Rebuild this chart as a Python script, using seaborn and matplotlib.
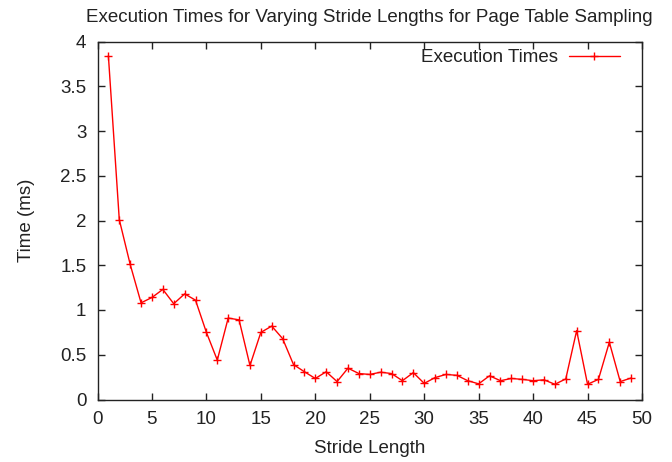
import matplotlib
matplotlib.use("Agg")
import matplotlib.pyplot as plt
import seaborn as sns
import pandas as pd

# valeurs
stride = list(range(1, 50))
times_ms = [3.84, 2.01, 1.51, 1.08, 1.14, 1.23, 1.07, 1.18, 1.11, 0.75,
            0.44, 0.91, 0.89, 0.38, 0.75, 0.82, 0.68, 0.39, 0.31, 0.235,
            0.31, 0.20, 0.35, 0.29, 0.28, 0.305, 0.29, 0.21, 0.30, 0.18,
            0.245, 0.28, 0.27, 0.21, 0.175, 0.265, 0.21, 0.235, 0.225, 0.21,
            0.22, 0.17, 0.23, 0.77, 0.17, 0.225, 0.64, 0.20, 0.24]

x_ticks = [0, 5, 10, 15, 20, 25, 30, 35, 40, 45, 50]
y_ticks = [0, 0.5, 1, 1.5, 2, 2.5, 3, 3.5, 4]
y_tick_labels = ["0", "0.5", "1", "1.5", "2", "2.5", "3", "3.5", "4"]

df = pd.DataFrame({"Stride Length": stride, "Time (ms)": times_ms})

sns.set_style("ticks")
plt.rcParams['font.family'] = ['Liberation Sans', 'DejaVu Sans']
fs = 13.5

fig = plt.figure(figsize=(6.72, 4.62), dpi=100)
ax = fig.add_axes([97.5 / 672, 1 - 399.5 / 462, 544.5 / 672, 358 / 462])

sns.lineplot(data=df, x="Stride Length", y="Time (ms)", ax=ax,
             color="#ff0000", linewidth=1, marker="+", markersize=6,
             markeredgewidth=1, markeredgecolor="#ff0000",
             label="Execution Times")

ax.set_xlim(0, 50)
ax.set_ylim(0, 4)
ax.set_xticks(x_ticks)
ax.set_xticklabels([str(t) for t in x_ticks])
ax.set_yticks(y_ticks)
ax.set_yticklabels(y_tick_labels)

ax.tick_params(direction="in", top=True, right=True, length=5, width=1,
               labelsize=fs, colors="#222222", pad=8)
for s in ax.spines.values():
    s.set_color("#222222")
    s.set_linewidth(1)

ax.set_title("Execution Times for Varying Stride Lengths for Page Table Sampling",
             fontsize=fs, color="#222222", pad=14)
ax.set_xlabel("Stride Length", fontsize=fs, color="#222222", labelpad=9)
ax.set_ylabel("Time (ms)", fontsize=fs, color="#222222", labelpad=18)

# légende style gnuplot : texte puis échantillon de ligne
leg = ax.legend(loc="upper right", bbox_to_anchor=(0.973, 1.0), frameon=False,
                markerfirst=False, fontsize=fs, handlelength=2.72,
                handletextpad=0.6, borderaxespad=0)
for t in leg.get_texts():
    t.set_color("#222222")

fig.savefig("out.png", dpi=100)
